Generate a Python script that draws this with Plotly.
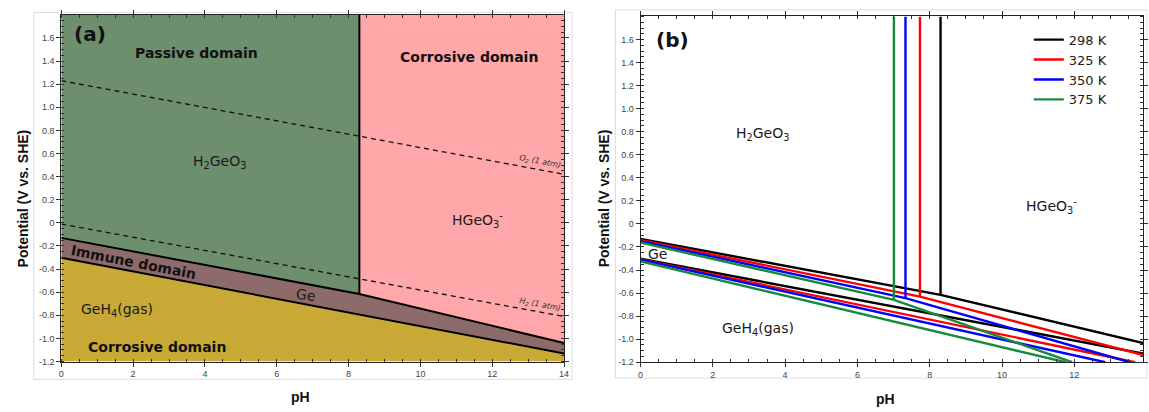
import numpy as np
import plotly.graph_objects as go

W, H = 1149, 412
YMIN, YMAX = -1.2, 1.8

# ---------------- data: panel (a) ----------------
ph_upper_a = [0, 8.3, 14]
e_upper_a = [-0.13, -0.615, -1.04]
ph_lower_a = [0, 14]
e_lower_a = [-0.302, -1.13]
ph_water = [0, 14]
e_o2 = [1.23, 0.42]
e_h2 = [-0.01, -0.81]

# ---------------- data: panel (b) ----------------
temps = ["298 K", "325 K", "350 K", "375 K"]
colors = ["#000000", "#ff0000", "#0000ff", "#178a3c"]
ph_upper_b = [[0, 8.30, 14.0], [0, 7.73, 14.0], [0, 7.33, 13.54], [0, 7.01, 11.94]]
e_upper_b = [[-0.13, -0.615, -1.04], [-0.14, -0.63, -1.145],
             [-0.149, -0.644, -1.2], [-0.162, -0.658, -1.2]]
ph_lower_b = [[0, 14.0], [0, 13.68], [0, 12.86], [0, 11.76]]
e_lower_b = [[-0.302, -1.13], [-0.307, -1.2], [-0.31, -1.2], [-0.325, -1.2]]

x_ticks = [0, 2, 4, 6, 8, 10, 12, 14]
y_ticks = [-1.2, -1.0, -0.8, -0.6, -0.4, -0.2, 0, 0.2, 0.4, 0.6, 0.8, 1.0, 1.2, 1.4, 1.6]
y_ticktext = ["-1.2", "-1.0", "-0.8", "-0.6", "-0.4", "-0.2", "0", "0.2", "0.4",
              "0.6", "0.8", "1.0", "1.2", "1.4", "1.6"]

C_GREEN = "#6d8f6e"
C_PINK = "#ffa7a9"
C_MAUVE = "#8e6b6b"
C_YELLOW = "#c9a935"


def px(x):
    return x / W


def py(y):
    return 1 - y / H


fig = go.Figure()

# ---- panel (a) fills ----
pv = ph_upper_a[1]
ev = e_upper_a[1]
fig.add_trace(go.Scatter(x=[0, pv, pv, 0], y=[e_upper_a[0], ev, YMAX, YMAX], fill="toself",
                         fillcolor=C_GREEN, mode="lines", line=dict(width=0),
                         showlegend=False, hoverinfo="skip", xaxis="x", yaxis="y"))
fig.add_trace(go.Scatter(x=[pv, ph_upper_a[2], ph_upper_a[2], pv],
                         y=[ev, e_upper_a[2], YMAX, YMAX], fill="toself",
                         fillcolor=C_PINK, mode="lines", line=dict(width=0),
                         showlegend=False, hoverinfo="skip", xaxis="x", yaxis="y"))
fig.add_trace(go.Scatter(x=list(ph_upper_a) + ph_lower_a[::-1],
                         y=list(e_upper_a) + e_lower_a[::-1], fill="toself",
                         fillcolor=C_MAUVE, mode="lines", line=dict(width=0),
                         showlegend=False, hoverinfo="skip", xaxis="x", yaxis="y"))
fig.add_trace(go.Scatter(x=list(ph_lower_a) + [ph_lower_a[-1], ph_lower_a[0]],
                         y=list(e_lower_a) + [YMIN, YMIN], fill="toself",
                         fillcolor=C_YELLOW, mode="lines", line=dict(width=0),
                         showlegend=False, hoverinfo="skip", xaxis="x", yaxis="y"))
# water lines
for e in (e_o2, e_h2):
    fig.add_trace(go.Scatter(x=ph_water, y=e, mode="lines",
                             line=dict(color="#111", width=1.3, dash="5px,4px"),
                             showlegend=False, hoverinfo="skip", xaxis="x", yaxis="y"))
# boundaries
fig.add_trace(go.Scatter(x=[pv, pv, None] + list(ph_upper_a),
                         y=[YMAX, ev, None] + list(e_upper_a), mode="lines",
                         line=dict(color="#000", width=2),
                         showlegend=False, hoverinfo="skip", xaxis="x", yaxis="y"))
fig.add_trace(go.Scatter(x=ph_lower_a, y=e_lower_a, mode="lines",
                         line=dict(color="#000", width=2),
                         showlegend=False, hoverinfo="skip", xaxis="x", yaxis="y"))

# ---- panel (b) lines ----
for i, t in enumerate(temps):
    phu, eu = ph_upper_b[i], e_upper_b[i]
    fig.add_trace(go.Scatter(x=[phu[1], phu[1], None] + phu,
                             y=[YMAX, eu[1], None] + eu, mode="lines",
                             line=dict(color=colors[i], width=2.4), name=t,
                             legendgroup=t, showlegend=True, hoverinfo="skip",
                             xaxis="x2", yaxis="y2"))
    fig.add_trace(go.Scatter(x=ph_lower_b[i], y=e_lower_b[i], mode="lines",
                             line=dict(color=colors[i], width=2.4), name=t,
                             legendgroup=t, showlegend=False, hoverinfo="skip",
                             xaxis="x2", yaxis="y2"))

axis_common = dict(
    showgrid=False, zeroline=False, showline=True, linecolor="#222", linewidth=1,
    mirror="ticks", ticks="outside", ticklen=4, tickwidth=1, tickcolor="#333",
    tickfont=dict(family="Liberation Sans", size=9, color="#444"),
)

fig.update_layout(
    width=W, height=H, margin=dict(l=0, r=0, t=0, b=0),
    paper_bgcolor="white", plot_bgcolor="white",
    xaxis=dict(domain=[px(58.7), px(565)], range=[0, 14], tickvals=x_ticks,
               minor=dict(dtick=0.5, ticks="inside", ticklen=3, tickcolor="#333"),
               anchor="y", **axis_common),
    yaxis=dict(domain=[py(366), py(15)], range=[YMIN, YMAX], tickvals=y_ticks,
               ticktext=y_ticktext,
               minor=dict(dtick=0.05, ticks="inside", ticklen=3, tickcolor="#333"),
               anchor="x", **axis_common),
    xaxis2=dict(domain=[px(642), px(1148)], range=[0, (1148 - 642) / 36.4], tickvals=x_ticks,
                minor=dict(dtick=0.5, ticks="inside", ticklen=3, tickcolor="#333"),
                anchor="y2", **axis_common),
    yaxis2=dict(domain=[py(366.7), py(16.7)], range=[YMIN, YMAX], tickvals=y_ticks,
                ticktext=y_ticktext,
                minor=dict(dtick=0.05, ticks="inside", ticklen=3, tickcolor="#333"),
                anchor="x2", **axis_common),
    legend=dict(x=px(1033), y=py(25), xanchor="left", yanchor="top",
                font=dict(family="DejaVu Sans", size=13, color="#222"),
                bgcolor="rgba(0,0,0,0)", tracegroupgap=0),
    showlegend=True,
)

# outer light frames
fig.add_shape(type="rect", xref="paper", yref="paper", x0=px(31), x1=px(573),
              y0=py(384), y1=py(12.7), line=dict(color="#dddddd", width=1), layer="below")
fig.add_shape(type="rect", xref="paper", yref="paper", x0=px(616.7), x1=px(1152),
              y0=py(382.7), y1=py(10), line=dict(color="#dddddd", width=1), layer="below")


def ann(x, y, text, size=13, bold=False, family="DejaVu Sans", angle=0, color="#1a1a1a",
        italic=False):
    if bold:
        text = "<b>" + text + "</b>"
    if italic:
        text = "<i>" + text + "</i>"
    fig.add_annotation(xref="paper", yref="paper", x=px(x), y=py(y), text=text,
                       showarrow=False, textangle=angle, xanchor="center", yanchor="middle",
                       font=dict(family=family, size=size, color=color))


# panel (a) texts
ann(88, 34, "(a)", size=20, bold=True, color="#111")
ann(195, 54, "Passive domain", size=14, bold=True, color="#111")
ann(469, 58, "Corrosive domain", size=14, bold=True, color="#111")
ann(218, 164, "H<sub>2</sub>GeO<sub>3</sub>", size=14)
ann(478, 223, "HGeO<sub>3</sub><sup>-</sup>", size=14)
ann(131, 265, "Immune domain", size=14, bold=True, angle=11, color="#111")
ann(305, 299, "Ge", size=14, angle=8)
ann(115, 314, "GeH<sub>4</sub>(gas)", size=14)
ann(155, 351, "Corrosive domain", size=14, bold=True, color="#111")
ann(541, 164, "O<sub>2</sub> (1 atm)", size=8, italic=True, angle=11, color="#333")
ann(541, 309, "H<sub>2</sub> (1 atm)", size=8, italic=True, angle=11, color="#333")

# panel (b) texts
ann(674, 40, "(b)", size=20, bold=True, color="#111")
ann(765, 136, "H<sub>2</sub>GeO<sub>3</sub>", size=14)
ann(1056, 209, "HGeO<sub>3</sub><sup>-</sup>", size=14)
ann(659, 257, "Ge", size=14)
ann(760, 333, "GeH<sub>4</sub>(gas)", size=14)

# axis titles
for cx in (20, 605):
    ann(cx, 201, "Potential (V vs. SHE)", size=14, bold=True, family="Liberation Sans",
        angle=-90, color="#111")
ann(300, 402, "pH", size=14, bold=True, family="Liberation Sans", color="#111")
ann(889, 404, "pH", size=14, bold=True, family="Liberation Sans", color="#111")

fig.write_html("out.html", config={"displayModeBar": False},
               post_script="document.body.style.margin='0px';")
